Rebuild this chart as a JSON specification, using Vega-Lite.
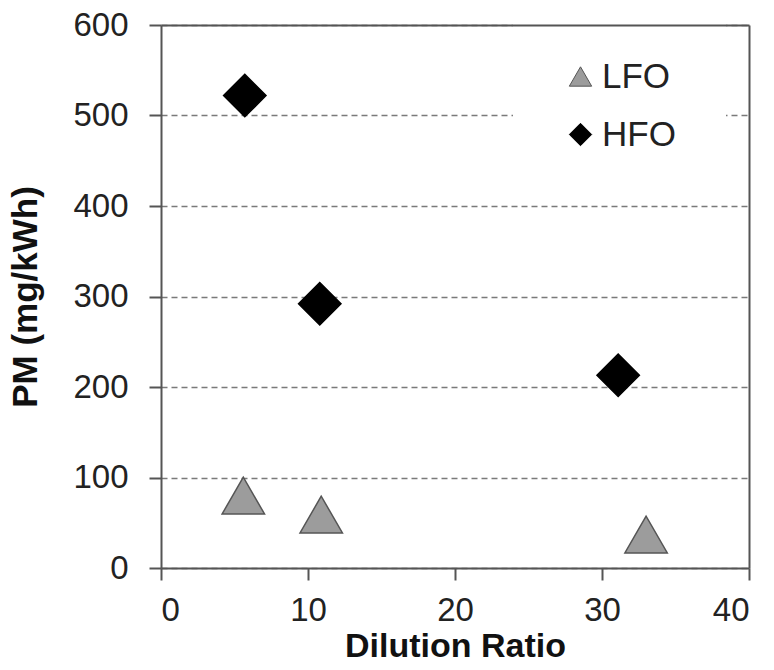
{
  "$schema": "https://vega.github.io/schema/vega-lite/v6.json",
  "autosize": {"type": "none"},
  "width": 588,
  "height": 543,
  "padding": {"left": 161, "top": 25, "right": 25, "bottom": 102},
  "background": "white",
  "config": {
    "view": {"stroke": null},
    "font": "Liberation Sans",
    "axis": {"labelFont": "Liberation Sans", "titleFont": "Liberation Sans"},
    "legend": {"labelFont": "Liberation Sans"}
  },
  "data": {
    "values": [
      {"fuel": "LFO", "dr": 5.6, "pm": 80},
      {"fuel": "LFO", "dr": 10.9, "pm": 59},
      {"fuel": "LFO", "dr": 33.0, "pm": 37},
      {"fuel": "HFO", "dr": 5.7, "pm": 522},
      {"fuel": "HFO", "dr": 10.8, "pm": 292},
      {"fuel": "HFO", "dr": 31.1, "pm": 213}
    ]
  },
  "layer": [
    {
      "mark": {"type": "point", "filled": true, "size": 1800, "strokeWidth": 1.5, "opacity": 1},
      "encoding": {
        "x": {
          "field": "dr", "type": "quantitative",
          "scale": {"domain": [0, 40], "nice": false, "zero": true},
          "axis": {
            "orient": "bottom", "values": [0, 10, 20, 30, 40], "grid": false,
            "domainColor": "#555555", "domainWidth": 2,
            "tickColor": "#555555", "tickWidth": 2, "tickSize": 12,
            "labelFontSize": 33, "labelColor": "#222222", "labelPadding": 14,
            "title": "Dilution Ratio", "titleFontSize": 34, "titleFontWeight": "bold",
            "titleColor": "#111111", "titlePadding": 2
          }
        },
        "y": {
          "field": "pm", "type": "quantitative",
          "scale": {"domain": [0, 600], "nice": false},
          "axis": {
            "orient": "left", "values": [0, 100, 200, 300, 400, 500, 600], "grid": true,
            "gridColor": "#7a7a7a", "gridDash": [6, 4], "gridWidth": 1.5,
            "domainColor": "#555555", "domainWidth": 2,
            "tickColor": "#555555", "tickWidth": 2, "tickSize": 12,
            "labelFontSize": 33, "labelColor": "#222222", "labelPadding": 21,
            "title": "PM (mg/kWh)", "titleFontSize": 35, "titleFontWeight": "bold",
            "titleColor": "#111111", "titlePadding": 29
          }
        },
        "shape": {
          "field": "fuel", "type": "nominal",
          "scale": {"domain": ["LFO", "HFO"], "range": ["triangle-up", "diamond"]},
          "legend": {
            "orient": "none", "legendX": 352, "legendY": -16, "title": null,
            "fillColor": "white", "padding": 50, "zindex": 1,
            "symbolSize": 500, "symbolStrokeWidth": 1,
            "labelFontSize": 35, "labelColor": "#222222", "labelOffset": 4,
            "rowPadding": 22
          }
        },
        "fill": {
          "field": "fuel", "type": "nominal",
          "scale": {"domain": ["LFO", "HFO"], "range": ["#9c9c9c", "#000000"]}
        },
        "stroke": {
          "field": "fuel", "type": "nominal",
          "scale": {"domain": ["LFO", "HFO"], "range": ["#555555", "#000000"]}
        }
      }
    },
    {
      "mark": {"type": "point", "opacity": 0},
      "encoding": {
        "x": {
          "field": "dr", "type": "quantitative",
          "axis": {"orient": "top", "labels": false, "ticks": false, "grid": false, "title": null,
                   "domainColor": "#555555", "domainWidth": 2, "zindex": 2}
        },
        "y": {
          "field": "pm", "type": "quantitative",
          "axis": {"orient": "right", "labels": false, "ticks": false, "grid": false, "title": null,
                   "domainColor": "#555555", "domainWidth": 2, "zindex": 2}
        }
      }
    }
  ],
  "resolve": {"axis": {"x": "independent", "y": "independent"}}
}
